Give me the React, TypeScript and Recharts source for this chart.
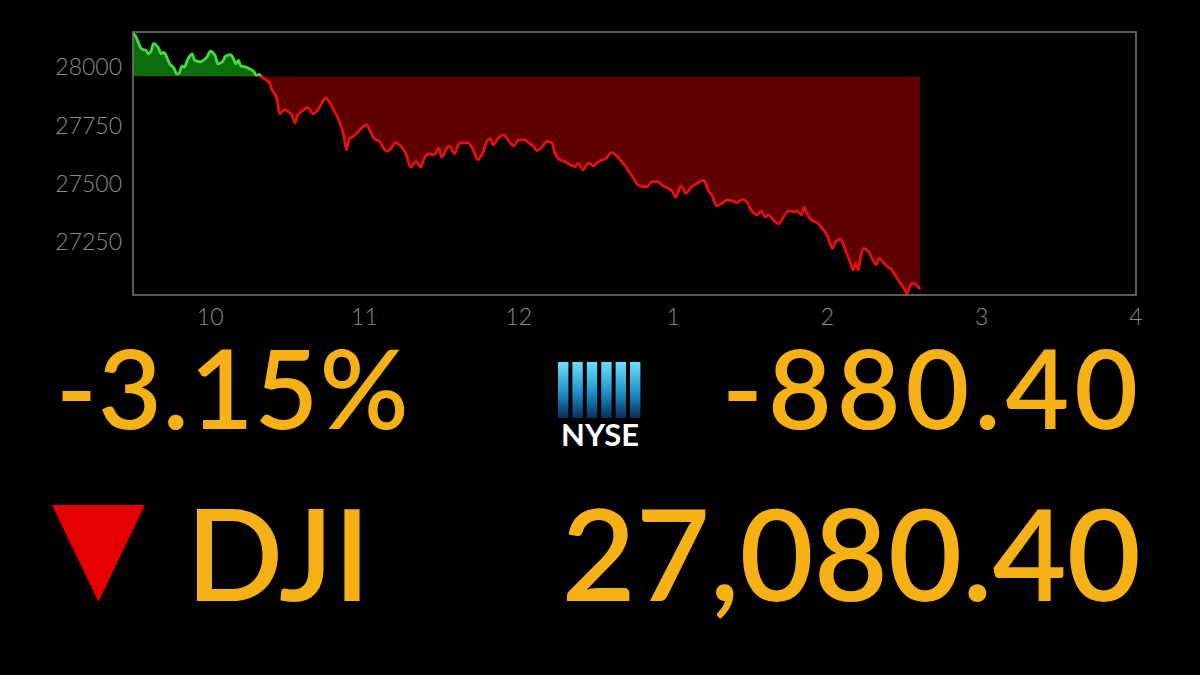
import { Area, AreaChart, ReferenceArea, XAxis, YAxis } from "recharts";

// minutes after the 9:30 open
const MINUTES = [
  0, 1, 3, 4, 5, 6, 7, 8, 10, 11, 12, 13, 14, 16, 17, 18, 19, 20, 21, 23, 24, 26, 27, 29, 30, 32, 33, 35, 36, 38,
  39, 40, 41, 42, 44, 45, 47, 48, 49, 50, 53, 54, 56, 57, 59, 60, 62, 63, 64, 66, 68, 70, 72, 75, 76, 78, 80, 82,
  83, 84, 86, 88, 91, 92, 94, 96, 97, 99, 101, 102, 104, 106, 108, 110, 112, 113, 115, 117, 119, 120, 122, 123,
  125, 127, 130, 132, 134, 136, 138, 139, 140, 142, 144, 145, 148, 150, 152, 154, 156, 157, 159, 161, 163, 164,
  166, 168, 170, 172, 173, 175, 177, 179, 181, 184, 186, 188, 190, 192, 194, 196, 198, 200, 202, 204, 206, 208,
  210, 211, 213, 215, 217, 219, 222, 223, 224, 225, 227, 229, 231, 233, 235, 237, 239, 241, 243, 244, 246, 247,
  249, 251, 253, 255, 257, 258, 260, 261, 262, 264, 266, 268, 270, 272, 273, 275, 277, 279, 280, 281, 282, 283,
  284, 286, 288, 289, 290, 292, 293, 295, 296, 298, 300, 301, 302, 303, 305, 306,
];

const DJI = [
  28145, 28135, 28084, 28076, 28073, 28058, 28070, 28102, 28081, 28058, 28064, 28047, 28020, 27995, 27972, 27975,
  28005, 28001, 28027, 28058, 28030, 28024, 28027, 28049, 28070, 28049, 28015, 28027, 28049, 28055, 28038, 28015,
  28030, 28005, 28001, 27995, 27981, 27964, 27969, 27958, 27934, 27905, 27862, 27800, 27818, 27812, 27790, 27761,
  27794, 27814, 27826, 27800, 27818, 27868, 27857, 27817, 27774, 27702, 27645, 27688, 27705, 27728, 27753, 27731,
  27691, 27681, 27659, 27638, 27662, 27676, 27662, 27631, 27570, 27594, 27570, 27602, 27628, 27623, 27652, 27613,
  27652, 27662, 27628, 27674, 27676, 27652, 27602, 27631, 27688, 27691, 27666, 27695, 27709, 27700, 27662, 27688,
  27688, 27674, 27656, 27642, 27656, 27681, 27674, 27631, 27602, 27594, 27580, 27573, 27588, 27559, 27588, 27576,
  27594, 27609, 27633, 27619, 27594, 27566, 27533, 27498, 27487, 27487, 27508, 27508, 27490, 27480, 27461, 27441,
  27490, 27458, 27484, 27498, 27513, 27490, 27465, 27451, 27404, 27415, 27429, 27425, 27418, 27432, 27415, 27375,
  27365, 27383, 27355, 27365, 27343, 27326, 27357, 27382, 27378, 27382, 27365, 27398, 27372, 27340, 27332, 27307,
  27274, 27221, 27245, 27260, 27214, 27157, 27128, 27157, 27128, 27188, 27221, 27207, 27164, 27150, 27178, 27157,
  27145, 27128, 27111, 27077, 27045, 27025, 27056, 27070, 27059, 27045,
];

const PREV_CLOSE = 27960.8;
const Y_MIN = 27020;
const Y_MAX = 28152;
const Y_TICKS = [27250, 27500, 27750, 28000];
const X_TICKS = [30, 90, 150, 210, 270, 330, 390];
const X_TICK_LABELS = ["10", "11", "12", "1", "2", "3", "4"];
const SESSION_END = 390;

const PCT_CHANGE = "-3.15%";
const PT_CHANGE = "-880.40";
const SYMBOL = "DJI";
const LAST = "27,080.40";

const ORANGE = "#f6b116";
const AXIS_GREY = "#8a8a8a";

const data = MINUTES.map((m, i) => ({ m, v: DJI[i] }));

const maxV = Math.max(...DJI);
const minV = Math.min(...DJI);
const split = (maxV - PREV_CLOSE) / (maxV - minV);

function NyseLogo({ x, y }: { x: number; y: number }) {
  const bars = [0, 1, 2, 3, 4, 5];
  return (
    <g transform={`translate(${x},${y})`}>
      <defs>
        <linearGradient id="nyseBar" x1="0" y1="0" x2="0" y2="1">
          <stop offset="0%" stopColor="#6ee0fb" />
          <stop offset="55%" stopColor="#1d8fc8" />
          <stop offset="100%" stopColor="#0a2e5c" />
        </linearGradient>
      </defs>
      {bars.map((b) => (
        <rect key={b} x={b * 14.4} y={0} width={10.4} height={56} fill="url(#nyseBar)" />
      ))}
      <text x={42} y={84} textAnchor="middle" fill="#ffffff" fontFamily="Lato, sans-serif" fontWeight={700} fontSize={31}>
        NYSE
      </text>
    </g>
  );
}

export default function App() {
  return (
    <div style={{ position: "fixed", left: 0, top: 0, width: 1200, height: 675, background: "#000", overflow: "hidden" }}>
      <AreaChart width={1200} height={345} data={data} margin={{ top: 32, right: 64, bottom: 0, left: 0 }}>
        <defs>
          <linearGradient id="fillSplit" x1="0" y1="0" x2="0" y2="1">
            <stop offset={split} stopColor="#0b6c0b" />
            <stop offset={split} stopColor="#5e0000" />
          </linearGradient>
          <linearGradient id="lineSplit" x1="0" y1="0" x2="0" y2="1">
            <stop offset={split} stopColor="#3ee03e" />
            <stop offset={split} stopColor="#e3100f" />
          </linearGradient>
        </defs>
        <XAxis
          dataKey="m"
          type="number"
          domain={[0, SESSION_END]}
          ticks={X_TICKS}
          tickFormatter={(v: number) => X_TICK_LABELS[X_TICKS.indexOf(v)] ?? ""}
          axisLine={false}
          tickLine={false}
          tickMargin={8}
          height={50}
          tick={{ fill: AXIS_GREY, fontSize: 23, fontFamily: "Lato, sans-serif", fontWeight: 300 }}
        />
        <YAxis
          type="number"
          domain={[Y_MIN, Y_MAX]}
          ticks={Y_TICKS}
          allowDataOverflow
          axisLine={false}
          tickLine={false}
          tickMargin={5}
          width={133}
          tick={{ fill: AXIS_GREY, fontSize: 23, fontFamily: "Lato, sans-serif", fontWeight: 300 }}
        />
        <Area
          type="monotone"
          dataKey="v"
          baseValue={PREV_CLOSE}
          stroke="url(#lineSplit)"
          strokeWidth={2.8}
          fill="url(#fillSplit)"
          fillOpacity={1}
          dot={false}
          activeDot={false}
          isAnimationActive={false}
        />
        <ReferenceArea x1={0} x2={SESSION_END} y1={Y_MIN} y2={Y_MAX} fill="none" stroke="#7a7a7a" strokeWidth={1.5} />
      </AreaChart>

      <svg width={1200} height={675} style={{ position: "absolute", left: 0, top: 0, pointerEvents: "none" }}>
        <g fontFamily="Lato, sans-serif" fill={ORANGE} fontWeight={600}>
          <text x={56} y={429} fontSize={110} letterSpacing={1}>
            {PCT_CHANGE}
          </text>
          <text x={1143} y={429} fontSize={110} textAnchor="end" letterSpacing={5}>
            {PT_CHANGE}
          </text>
          <text x={186} y={601} fontSize={128}>
            {SYMBOL}
          </text>
          <text x={1141} y={601} fontSize={128} textAnchor="end">
            {LAST}
          </text>
        </g>
        <polygon points="52,505 145,505 98.5,602" fill="#e40000" />
        <NyseLogo x={558} y={362} />
      </svg>
    </div>
  );
}
